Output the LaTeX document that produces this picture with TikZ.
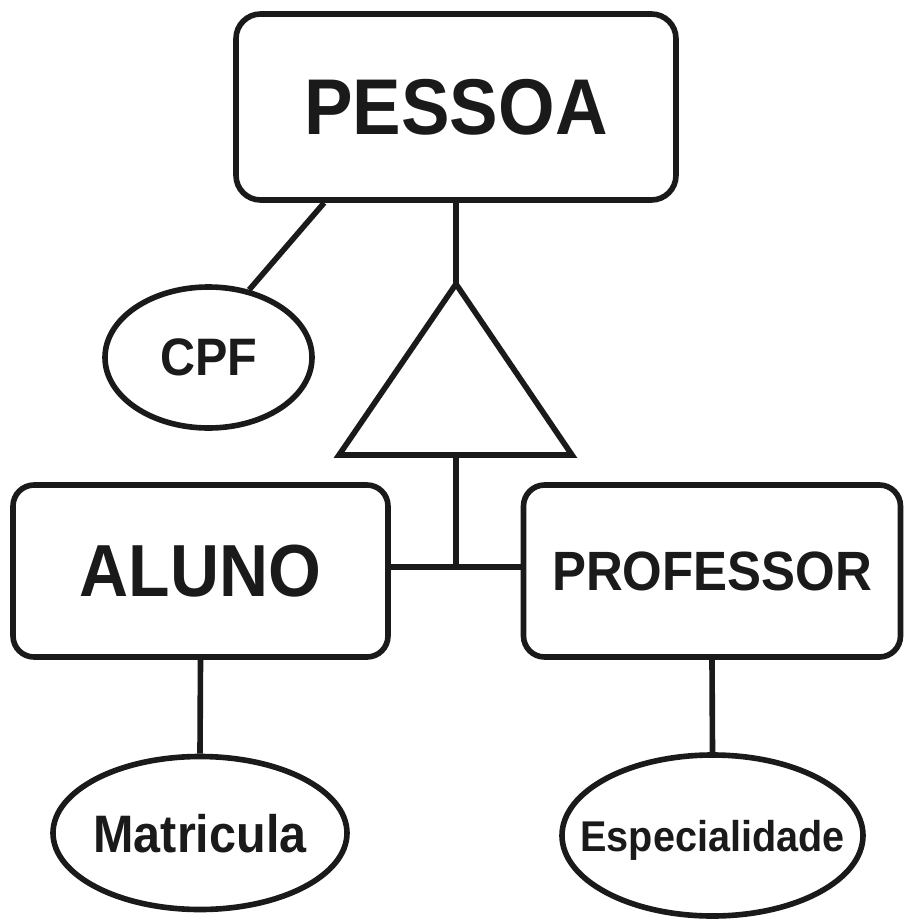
\documentclass[tikz,border=0pt]{standalone}
\usepackage{fontspec}
\setmainfont[FakeStretch=0.92]{Liberation Sans}
\usetikzlibrary{shapes.geometric,positioning}
\definecolor{ink}{HTML}{1A1A1A}

\begin{document}
\begin{tikzpicture}[
  entity/.style={rectangle,rounded corners=12pt,draw=ink,line width=3.2pt,
    minimum width=7.5cm,minimum height=3.44cm,inner sep=0pt,
    text=ink,text depth=0pt},
  attr/.style={ellipse,draw=ink,line width=3.2pt,inner sep=0pt,
    text=ink,text depth=0pt},
  link/.style={draw=ink,line width=3.2pt}
]
  \useasboundingbox (0,0) rectangle (18.36,-18.44);

  \node[entity,minimum width=8.8cm,minimum height=3.72cm,rounded corners=14pt,
    font=\bfseries\fontsize{45}{52}\selectfont] (pessoa) at (9.12,-2.14) {PESSOA};
  \node[attr,minimum width=4.14cm,minimum height=2.82cm,
    font=\bfseries\fontsize{30}{36}\selectfont] (cpf) at (4.17,-7.15) {\makebox[0pt]{CPF}};

  \node[entity,font=\bfseries\fontsize{42}{48}\selectfont] (aluno) at (4.01,-11.42) {ALUNO};
  \node[entity,minimum width=7.54cm,font=\bfseries\fontsize{31.5}{37}\selectfont] (professor) at (14.24,-11.42) {PROFESSOR};

  \node[attr,minimum width=5.88cm,minimum height=3.06cm,
    font=\bfseries\fontsize{30}{36}\selectfont] (matr) at (4.0,-16.66) {\makebox[0pt]{Matricula}};
  \node[attr,minimum width=6.02cm,minimum height=3.22cm,
    font=\bfseries\fontsize{24.5}{29}\selectfont] (espec) at (14.25,-16.71) {\makebox[0pt]{Especialidade}};

  % specialisation triangle
  \coordinate (isatop) at (9.12,-5.68);
  \coordinate (isaleft) at (6.78,-9.10);
  \coordinate (isaright) at (11.44,-9.10);
  \coordinate (isabase) at (9.12,-9.10);
  \coordinate (jn) at (9.12,-11.34);
  \draw[link] (isatop) -- (isaleft) -- (isaright) -- cycle;

  \draw[link] (pessoa.216.5) -- (cpf.59);
  \draw[link] (pessoa.south) -- (isatop);
  \draw[link] (isabase) -- (jn);
  \draw[link] (jn -| aluno.east) -- (jn -| professor.west);
  \draw[link] (aluno.south) -- (matr.north);
  \draw[link] (professor.south) -- (espec.north);
\end{tikzpicture}
\end{document}
